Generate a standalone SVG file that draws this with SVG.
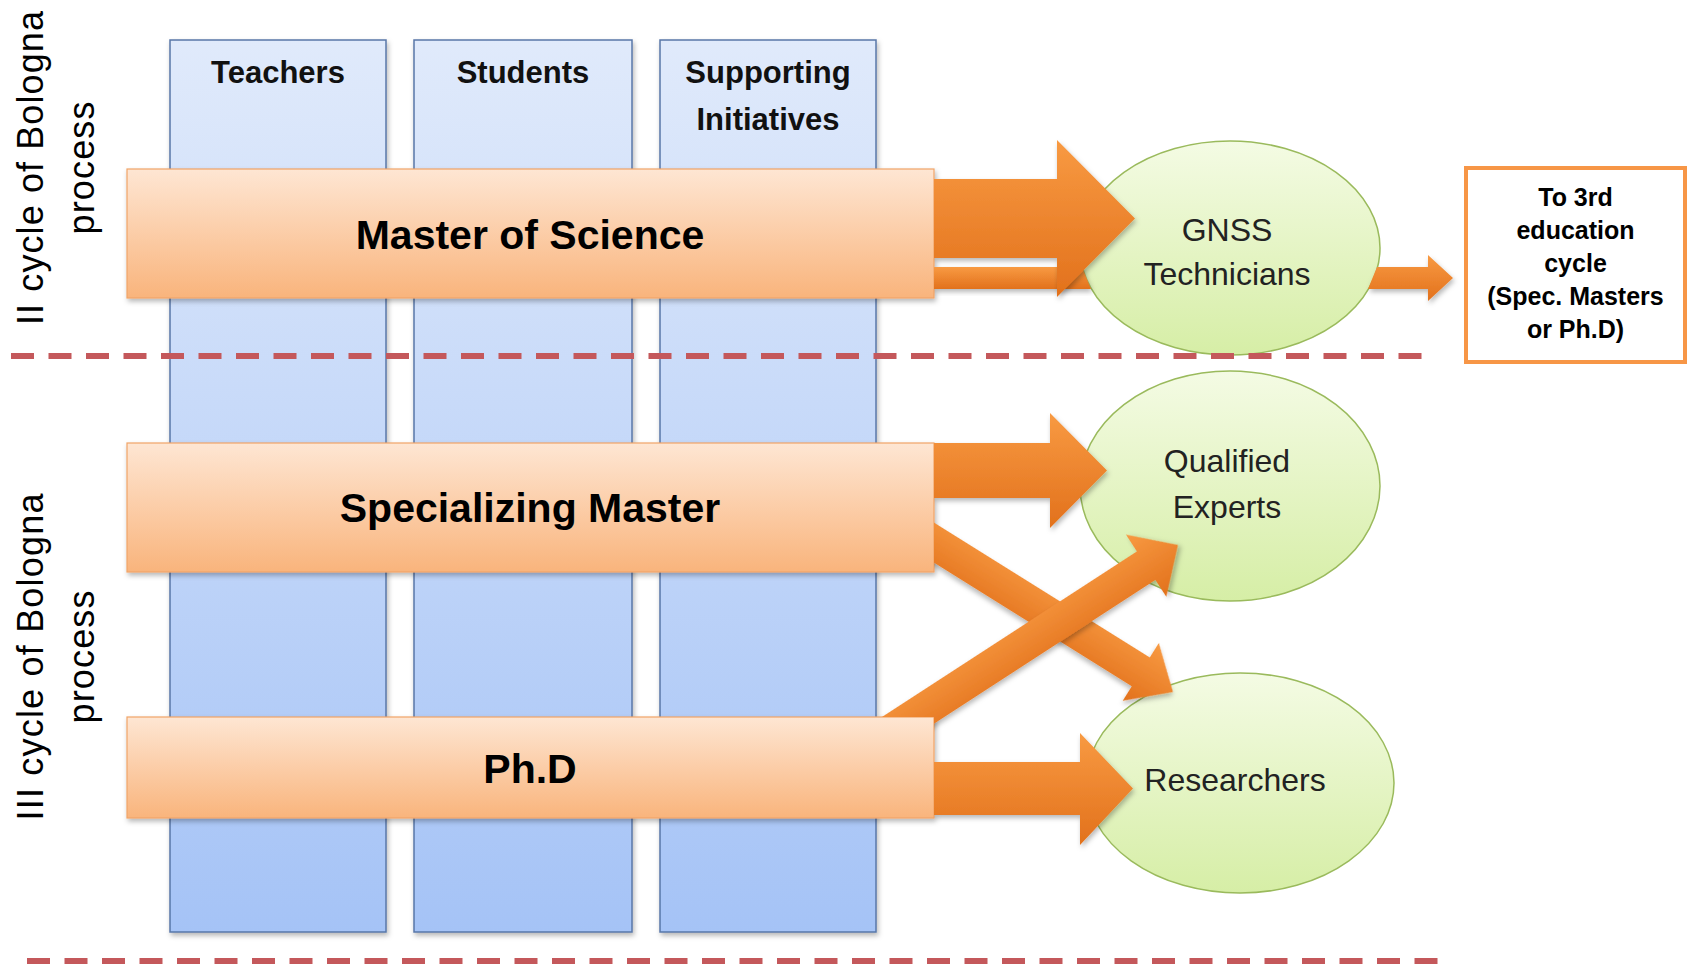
<svg xmlns="http://www.w3.org/2000/svg" width="1688" height="969" viewBox="0 0 1688 969">
<defs>
<linearGradient id="gCol" x1="0" y1="0" x2="0" y2="1"><stop offset="0" stop-color="#e0eafb"/><stop offset="1" stop-color="#a5c3f6"/></linearGradient>
<linearGradient id="gBar" x1="0" y1="0" x2="0" y2="1"><stop offset="0" stop-color="#fee6d3"/><stop offset="1" stop-color="#f9b47c"/></linearGradient>
<linearGradient id="gEll" x1="0" y1="0" x2="0" y2="1"><stop offset="0" stop-color="#f4fbe4"/><stop offset="1" stop-color="#d6eea6"/></linearGradient>
<linearGradient id="gArr" x1="0" y1="0" x2="0" y2="1"><stop offset="0" stop-color="#f89a42"/><stop offset="1" stop-color="#e2711c"/></linearGradient>
<filter id="sh" x="-10%" y="-10%" width="130%" height="140%"><feDropShadow dx="1.5" dy="3" stdDeviation="2.5" flood-color="#000" flood-opacity="0.28"/></filter>
<clipPath id="noBars"><path clip-rule="evenodd" d="M0 0H1688V969H0Z M127 169H934V298H127Z M127 443H934V572H127Z M127 717H934V818H127Z"/></clipPath>
</defs>
<style>
.col{fill:url(#gCol);stroke:#5877a8;stroke-width:1.5;filter:url(#sh)}
.bar{fill:url(#gBar);stroke:#f0a468;stroke-width:1.2;filter:url(#sh)}
.ell{fill:url(#gEll);stroke:#9aba5c;stroke-width:1.5}
.arr{fill:url(#gArr);filter:url(#sh)}
.dash{stroke:#c4585b;stroke-width:6;stroke-dasharray:23 14.5;fill:none}
.hd{font-family:"Liberation Sans",Arial,sans-serif;font-weight:bold;font-size:31px;fill:#111;text-anchor:middle}
.bt{font-family:"Liberation Sans",Arial,sans-serif;font-weight:bold;font-size:41px;fill:#000;text-anchor:middle}
.et{font-family:"Liberation Sans",Arial,sans-serif;font-size:32px;fill:#222;text-anchor:middle}
.bx{font-family:"Liberation Sans",Arial,sans-serif;font-weight:bold;font-size:25px;fill:#000;text-anchor:middle}
.lb{font-family:"Liberation Sans",Arial,sans-serif;font-size:36px;fill:#000;text-anchor:middle}
</style>
<rect width="1688" height="969" fill="#fff"/>

<g id="col-teachers"><rect class="col" x="170" y="40" width="216" height="892"/><text class="hd" x="278" y="83">Teachers</text></g>
<g id="col-students"><rect class="col" x="414" y="40" width="218" height="892"/><text class="hd" x="523" y="83">Students</text></g>
<g id="col-supporting"><rect class="col" x="660" y="40" width="216" height="892"/><text class="hd" x="768" y="83">Supporting</text><text class="hd" x="768" y="130">Initiatives</text></g>

<g id="bar-msc"><rect class="bar" x="127" y="169" width="807" height="129"/><text class="bt" x="530" y="249">Master of Science</text></g>
<g id="bar-spec"><rect class="bar" x="127" y="443" width="807" height="129"/><text class="bt" x="530" y="522">Specializing Master</text></g>
<g id="bar-phd"><rect class="bar" x="127" y="717" width="807" height="101"/><text class="bt" x="530" y="783">Ph.D</text></g>

<g id="ell-gnss"><ellipse class="ell" cx="1230" cy="248" rx="150" ry="107"/><text class="et" x="1227" y="241">GNSS</text><text class="et" x="1227" y="285">Technicians</text></g>
<g id="ell-qual"><ellipse class="ell" cx="1230" cy="486" rx="150" ry="115"/><text class="et" x="1227" y="472">Qualified</text><text class="et" x="1227" y="518">Experts</text></g>
<g id="ell-res"><ellipse class="ell" cx="1240" cy="783" rx="154" ry="110"/><text class="et" x="1235" y="791">Researchers</text></g>

<g id="box-third"><rect x="1466" y="168" width="219" height="194" fill="#fff" stroke="#f79646" stroke-width="4"/>
<text class="bx" x="1575.5" y="206">To 3rd</text>
<text class="bx" x="1575.5" y="239">education</text>
<text class="bx" x="1575.5" y="272">cycle</text>
<text class="bx" x="1575.5" y="305">(Spec. Masters</text>
<text class="bx" x="1575.5" y="338">or Ph.D)</text></g>

<g id="connectors" clip-path="url(#noBars)">
<polygon class="arr" points="934,267 1082,267 1091,289 934,289"/>
<polygon class="arr" points="1377,267 1428,267 1428,255 1453,278 1428,301 1428,289 1368,289"/>
<polygon class="arr" transform="translate(1173,692) rotate(32)" points="-330,-17 -38,-17 -38,-34 0,0 -38,34 -38,17 -330,17"/>
<polygon class="arr" transform="translate(1178,545) rotate(-33)" points="-400,-17 -38,-17 -38,-37 0,0 -38,37 -38,17 -400,17"/>
<polygon class="arr" points="934,179 1057,179 1057,140 1135,218.5 1057,297 1057,258 934,258"/>
<polygon class="arr" points="934,443 1050,443 1050,413 1107,470.5 1050,528 1050,498 934,498"/>
<polygon class="arr" points="934,762 1080,762 1080,733 1133,788.5 1080,845 1080,815 934,815"/>
</g>

<g id="dividers">
<line class="dash" x1="11" y1="356" x2="1426" y2="356"/>
<line class="dash" x1="27" y1="961" x2="1440" y2="961"/>
</g>

<g id="labels">
<text class="lb" transform="translate(43,168) rotate(-90)" textLength="314">II cycle of Bologna</text>
<text class="lb" transform="translate(94,168) rotate(-90)" textLength="133">process</text>
<text class="lb" transform="translate(43,657) rotate(-90)" textLength="327">III cycle of Bologna</text>
<text class="lb" transform="translate(94,657) rotate(-90)" textLength="133">process</text>
</g>
</svg>
